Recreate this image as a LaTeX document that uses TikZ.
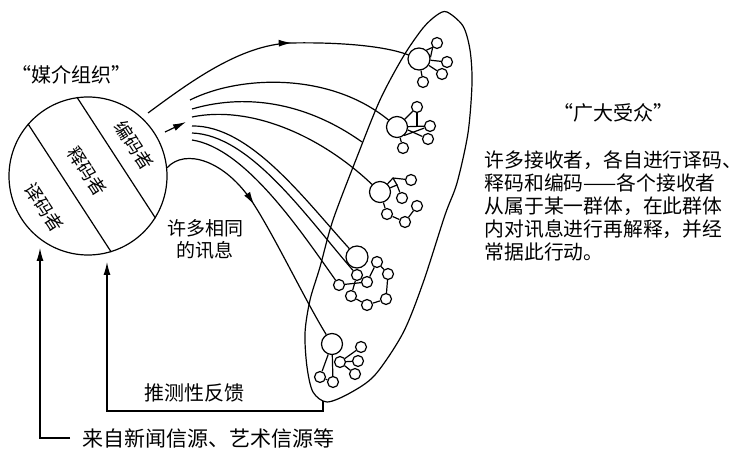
\documentclass[tikz,border=0pt]{standalone}
\usepackage{fontspec}
\setmainfont{Noto Sans CJK SC}
\usetikzlibrary{arrows.meta,decorations.markings}
\begin{document}
\begin{tikzpicture}[x=1pt,y=-1pt,line width=1.2pt,
  big/.style={circle,draw,inner sep=0pt,minimum size=21pt},
  small/.style={circle,draw,inner sep=0pt,minimum size=11pt},
  tip/.style={-{Latex[length=13pt,width=7pt]}},
  midarrow/.style={postaction={decorate},decoration={markings,mark=at position #1 with {\arrow{Latex[length=13pt,width=7pt]}}}},
  lbl/.style={inner sep=0pt,font=\fontsize{19}{22}\selectfont},
  seg/.style={inner sep=0pt,font=\fontsize{18}{18}\selectfont,rotate=-57}
]
\useasboundingbox (0,0) rectangle (745,449);

% media organisation
\node[circle,draw,inner sep=0pt,minimum size=158pt] (org) at (88,176) {};
\draw (org.98) -- (org.-32);
\draw (org.139) -- (org.-73);
\node[seg] (enc) at (134,145) {编码者};
\node[seg] (intp) at (87,171) {释码者};
\node[seg] (dec) at (44,207) {译码者};
\node[lbl,font=\fontsize{20}{22}\selectfont] (orgname) at (72,75) {“媒介组织”};

% audience ellipse
\draw plot[smooth cycle] coordinates {(447,12) (463,26) (470,50) (472,83) (468,133) (457,183) (445,215) (423,283) (403,333) (375,375) (350,393) (327,402) (313,392) (307,367) (305,333) (310,300) (320,267) (333,220) (357,157) (380,100) (403,57) (423,28) (437,15)};
\coordinate (ellbot) at (323,401);

% cluster 1
\node[big,minimum size=22pt] (B1) at (419,59) {};
\node[small] (s11) at (437,43) {};
\node[small] (s12) at (447,62) {};
\node[small] (s13) at (442,74) {};
\node[small] (s14) at (423,82) {};
\draw (B1.50) -- (s11.225);
\draw (B1.8) -- (s11.225);
\draw (B1) -- (s12);
\draw (B1) -- (s13);
\draw (B1) -- (s14);

% cluster 2
\node[big] (B2) at (397,127) {};
\node[small] (s21) at (417,107) {};
\node[small] (s22) at (430,126) {};
\node[small] (s23) at (428,139) {};
\node[small] (s24) at (403,148) {};
\draw (B2) -- (s21);
\draw (B2) -- (s22);
\draw (s21) -- (s21 |- B2);
\draw (B2.-15) -- (s23);
\draw (B2.-50) -- (s22.200);
\draw (B2) -- (s24);

% cluster 3
\node[big] (B3) at (380,192) {};
\node[small] (s31) at (411,180) {};
\node[small] (s32) at (402,198) {};
\node[small] (s33) at (387,214) {};
\node[small] (s34) at (405,222) {};
\node[small] (s35) at (417,206) {};
\coordinate (q1) at (393,178);
\coordinate (q2) at (397,185);
\draw (B3) -- (q1) -- (s31);
\draw (q1) -- (q2);
\draw (B3) -- (q2) -- (s32);
\draw (B3) -- (s33) -- (s34) -- (s35);

% cluster 4
\node[big,minimum size=22pt] (B4) at (357,257) {};
\node[small] (s41) at (377,262) {};
\node[small] (s42) at (388,274) {};
\node[small] (s43) at (386,299) {};
\node[small] (s44) at (367,305) {};
\node[small] (s45) at (351,296) {};
\node[small] (s46) at (357,275) {};
\node[small] (s47) at (367,282) {};
\node[small] (s48) at (339,285) {};
\draw (s41) -- (s42) -- (s43) -- (s44) -- (s45) -- (s46);
\draw (s46) -- (s47);
\draw (s48) -- (s47);
\draw (s41) -- (s47);

% cluster 5
\node[big] (B5) at (332,344) {};
\node[small] (s51) at (361,347) {};
\node[small] (s52) at (358,361) {};
\node[small] (s53) at (340,362) {};
\node[small] (s54) at (355,374) {};
\node[small] (s55) at (320,377) {};
\node[small] (s56) at (333,382) {};
\draw (B5) -- (s55) -- (s56) -- (B5);
\draw (s53) -- (s51);
\draw (s53) -- (s52);
\draw (s53) -- (s54);

% messages
\coordinate (a0) at (148,113);
\draw[midarrow=0.58] (a0) .. controls (190,82) and (240,45) .. (290,43) .. controls (340,42) and (385,46) .. (B1);
\draw[midarrow=0.42] (org.6) .. controls (185,148) and (225,160) .. (253,203) .. controls (275,237) and (305,300) .. (B5);
\coordinate (sa0) at (165,132);
\coordinate (sa1) at (186,122);
\draw[tip] (sa0) -- (sa1);

\coordinate (b1) at (190,100);
\coordinate (b2) at (192,109);
\coordinate (b3) at (192,117);
\coordinate (b4) at (192,126);
\coordinate (b5) at (192,133);
\coordinate (b6) at (192,140);
\coordinate (e2) at (362,142);
\draw (b1) .. controls (240,75) and (330,72) .. (B2);
\draw (b2) .. controls (250,92) and (310,105) .. (e2);
\draw (b3) .. controls (250,105) and (320,135) .. (B3);
\draw (b4) .. controls (250,125) and (305,200) .. (B4);
\draw (b5) .. controls (250,135) and (305,215) .. (s46);
\draw (b6) .. controls (245,148) and (300,230) .. (s48);

\node[lbl,align=center] (msgs) at (205,239) {许多相同\\的讯息};

% feedback and sources
\coordinate (fbtip) at (107,262);
\draw[tip] (ellbot) -- ++(0,10) -| (fbtip);
\node[lbl,font=\fontsize{20}{22}\selectfont] (fb) at (194,393) {推测性反馈};
\coordinate (src) at (70,438);
\coordinate (srctip) at (40,248);
\draw[tip] (src) -| (srctip);
\node[lbl,anchor=west,font=\fontsize{21}{22}\selectfont] (srctext) at (82,438) {来自新闻信源、艺术信源等};

% audience text
\node[lbl,font=\fontsize{20}{22}\selectfont] (aud) at (613,113) {“广大受众”};
\node[inner sep=0pt,anchor=base west,align=left,font=\fontsize{19.8}{23}\selectfont] (desc) at (484,260) {许多接收者，各自进行译码、\\释码和编码——各个接收者\\从属于某一群体，在此群体\\内对讯息进行再解释，并经\\常据此行动。};
\end{tikzpicture}
\end{document}
